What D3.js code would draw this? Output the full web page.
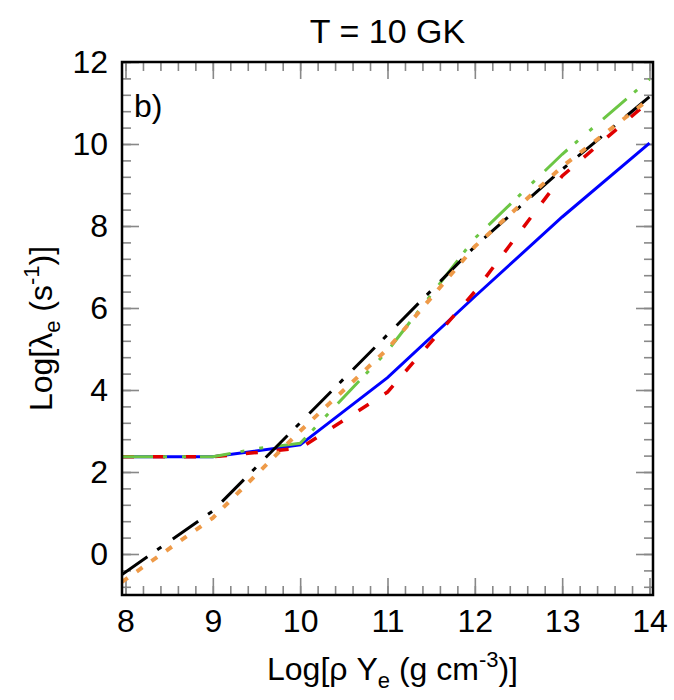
<!DOCTYPE html>
<html>
<head>
<meta charset="utf-8">
<script src="https://cdn.jsdelivr.net/npm/d3@7"></script>
<style>
  body { margin: 0; background: #fff; }
  text { font-family: "Liberation Sans", Arial, sans-serif; fill: #000; }
</style>
</head>
<body>
<div class="chart"></div>
<script>
// log density (x) and log rate (y)
const xAxisTicks = [8, 9, 10, 11, 12, 13, 14];
const yAxisTicks = [0, 2, 4, 6, 8, 10, 12];

const blueX = [7.96, 9, 10, 11, 12, 13, 14];
const blueY = [2.37, 2.37, 2.66, 4.3, 6.28, 8.22, 10.02];

const redX = [7.96, 9, 10, 11, 12, 13, 14];
const redY = [2.37, 2.37, 2.58, 3.95, 6.4, 9.22, 11.05];

const greenX = [7.96, 9, 9.5, 10, 11, 12, 13, 14];
const greenY = [2.37, 2.37, 2.57, 2.7, 4.95, 7.7, 9.75, 11.58];

const blackX = [7.96, 9, 10, 11, 12, 13, 14];
const blackY = [-0.5, 1.05, 3.2, 5.35, 7.5, 9.38, 11.15];

const orangeX = [7.96, 9, 10, 11, 12, 13, 14];
const orangeY = [-0.68, 0.88, 3.0, 5.0, 7.5, 9.45, 11.1];

const series = [
	{ xs: blueX, ys: blueY, color: "#0000ff", dash: null, w: 3 },
	{ xs: redX, ys: redY, color: "#e00000", dash: "12,19", w: 3.5 },
	{ xs: greenX, ys: greenY, color: "#6cc644", dash: "31,10,4,15,4,14", w: 3 },
	{ xs: blackX, ys: blackY, color: "#000000", dash: "31,12,5,14", w: 3 },
	{ xs: orangeX, ys: orangeY, color: "#ee9a48", dash: "7,11", w: 4 },
];

const margin = { top: 62, right: 21, bottom: 105, left: 122 };
const width = 674 - margin.left - margin.right,
	height = 700 - margin.top - margin.bottom;

const xScale = d3.scaleLinear().domain([7.96, 14.04]).range([0, width]);
const yScale = d3.scaleLinear().domain([-1, 12]).range([height, 0]);

const svg = d3
	.select(".chart")
	.append("svg")
	.attr("width", 674)
	.attr("height", 700)
	.append("g")
	.attr("transform", "translate(" + margin.left + "," + margin.top + ")");

svg.append("clipPath")
	.attr("id", "plot")
	.append("rect")
	.attr("width", width)
	.attr("height", height);

// ticks on all four sides, pointing in
const xMinor = d3.range(8, 14.01, 0.2);
const yMinor = d3.range(-0.8, 12.01, 0.4);

function tickStyle(g) {
	g.select(".domain").remove();
	g.selectAll(".tick line").attr("stroke", "#888").attr("stroke-width", 1.6);
	g.selectAll("text").attr("font-size", "32px").attr("fill", "#000");
}

svg.append("g")
	.attr("transform", `translate(0, ${height})`)
	.call(d3.axisBottom(xScale).tickValues(xMinor).tickSize(-9).tickFormat(""))
	.call(tickStyle);
svg.append("g")
	.attr("transform", `translate(0, ${height})`)
	.call(d3.axisBottom(xScale).tickValues(xAxisTicks).tickSize(-17).tickPadding(14).tickFormat(d3.format("d")))
	.call(tickStyle);
svg.append("g")
	.call(d3.axisTop(xScale).tickValues(xMinor).tickSize(-9).tickFormat(""))
	.call(tickStyle);
svg.append("g")
	.call(d3.axisTop(xScale).tickValues(xAxisTicks).tickSize(-17).tickFormat(""))
	.call(tickStyle);

svg.append("g")
	.call(d3.axisLeft(yScale).tickValues(yMinor).tickSize(-9).tickFormat(""))
	.call(tickStyle);
svg.append("g")
	.call(d3.axisLeft(yScale).tickValues(yAxisTicks).tickSize(-17).tickPadding(14).tickFormat(d3.format("d")))
	.call(tickStyle);
svg.append("g")
	.attr("transform", `translate(${width}, 0)`)
	.call(d3.axisRight(yScale).tickValues(yMinor).tickSize(-9).tickFormat(""))
	.call(tickStyle);
svg.append("g")
	.attr("transform", `translate(${width}, 0)`)
	.call(d3.axisRight(yScale).tickValues(yAxisTicks).tickSize(-17).tickFormat(""))
	.call(tickStyle);

const line = d3
	.line()
	.x((d) => xScale(d[0]))
	.y((d) => yScale(d[1]));

svg.append("g")
	.attr("clip-path", "url(#plot)")
	.selectAll("path")
	.data(series)
	.enter()
	.append("path")
	.attr("d", (s) => line(s.xs.map((v, i) => [v, s.ys[i]])))
	.attr("fill", "none")
	.attr("stroke", (s) => s.color)
	.attr("stroke-width", (s) => s.w)
	.attr("stroke-dasharray", (s) => s.dash);

// frame
svg.append("rect")
	.attr("width", width)
	.attr("height", height)
	.attr("fill", "none")
	.attr("stroke", "#000")
	.attr("stroke-width", 2.5);

svg.append("text")
	.attr("x", 12)
	.attr("y", 55)
	.attr("font-size", "32px")
	.text("b)");

svg.append("text")
	.attr("x", width / 2)
	.attr("y", -19)
	.attr("text-anchor", "middle")
	.attr("font-size", "34px")
	.text("T = 10 GK");

// x axis label
const xl = svg.append("text")
	.attr("x", width / 2 + 5)
	.attr("y", height + 85)
	.attr("text-anchor", "middle")
	.attr("font-size", "32px");
xl.append("tspan").text("Log[ρ Y");
xl.append("tspan").attr("font-size", "22px").attr("dy", 8).text("e");
xl.append("tspan").attr("dy", -8).text(" (g cm");
xl.append("tspan").attr("font-size", "22px").attr("dy", -13).text("-3");
xl.append("tspan").attr("dy", 13).text(")]");

// y axis label
const yl = svg.append("text")
	.attr("transform", `translate(-70, ${height / 2}) rotate(-90)`)
	.attr("text-anchor", "middle")
	.attr("font-size", "32px");
yl.append("tspan").text("Log[λ");
yl.append("tspan").attr("font-size", "22px").attr("dy", 8).text("e");
yl.append("tspan").attr("dy", -8).text(" (s");
yl.append("tspan").attr("font-size", "22px").attr("dy", -13).text("-1");
yl.append("tspan").attr("dy", 13).text(")]");
</script>
</body>
</html>
